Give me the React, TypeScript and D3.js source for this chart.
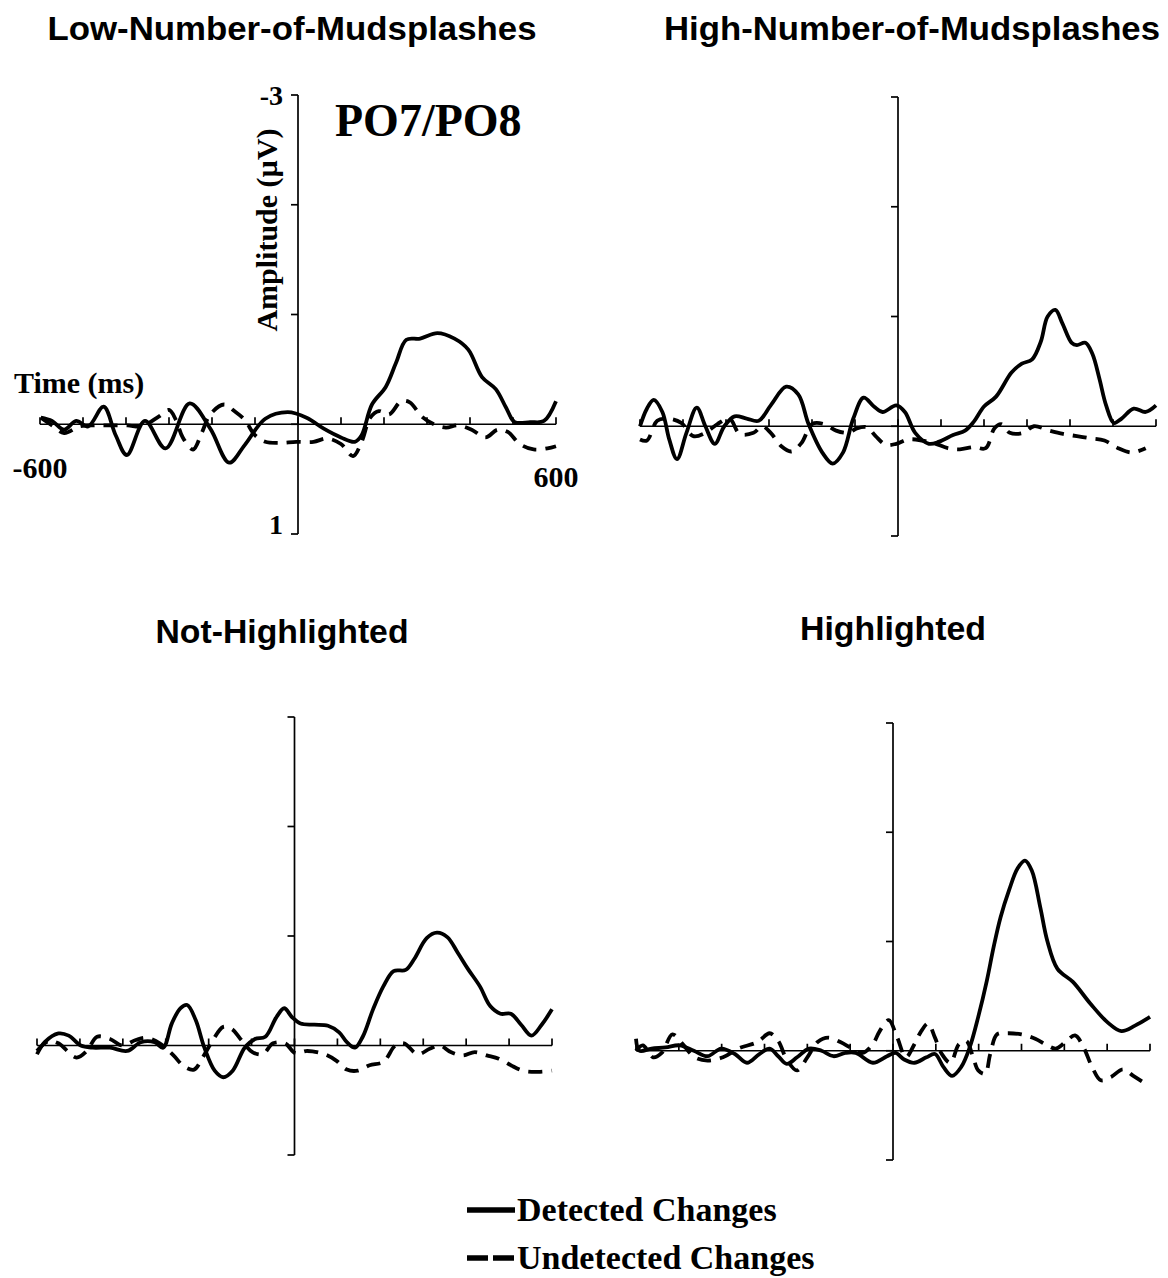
import React from "react";
import * as d3 from "d3";

// ---- Data (time ms, amplitude µV) ----
const timeTicks = [-600, -500, -400, -300, -200, -100, 0, 100, 200, 300, 400, 500, 600];
const ampTicks = [-3, -2, -1, 0, 1];
const titles = ["Low-Number-of-Mudsplashes", "High-Number-of-Mudsplashes", "Not-Highlighted", "Highlighted"];
const legendLabels = ["Detected Changes", "Undetected Changes"];

const lowDetected: [number, number][] = [[-598,-0.06],[-572,-0.03],[-544,0.05],[-516,-0.03],[-488,0.02],[-452,-0.16],[-424,0.1],[-398,0.28],[-356,-0.03],[-308,0.22],[-252,-0.19],[-204,0.04],[-160,0.35],[-124,0.19],[-76,-0.05],[-24,-0.11],[20,-0.06],[60,0.04],[100,0.12],[132,0.16],[148,0.1],[172,-0.18],[204,-0.34],[228,-0.56],[252,-0.77],[284,-0.78],[324,-0.83],[364,-0.78],[396,-0.68],[428,-0.43],[460,-0.32],[484,-0.15],[504,-0.02],[540,-0.02],[572,-0.03],[600,-0.21]];
const lowUndetected: [number, number][] = [[-598,-0.06],[-572,0.01],[-544,0.08],[-508,0.02],[-472,0.01],[-436,0.01],[-396,0.01],[-364,0.02],[-324,-0.07],[-300,-0.13],[-284,-0.04],[-268,0.12],[-244,0.23],[-224,0.08],[-204,-0.09],[-172,-0.18],[-148,-0.12],[-124,-0.04],[-100,0.1],[-76,0.16],[-44,0.17],[-4,0.16],[36,0.16],[68,0.13],[100,0.18],[128,0.29],[148,0.16],[168,-0.06],[188,-0.12],[212,-0.09],[240,-0.21],[260,-0.2],[288,-0.07],[316,0],[344,0.03],[372,0.01],[404,0.05],[436,0.12],[464,0.05],[488,0.07],[516,0.18],[548,0.23],[580,0.22],[600,0.2]];
const highDetected: [number, number][] = [[-600,0],[-584,-0.16],[-568,-0.24],[-548,-0.13],[-532,0.12],[-514,0.3],[-492,0.06],[-468,-0.17],[-448,0],[-426,0.16],[-404,0],[-380,-0.09],[-352,-0.07],[-324,-0.05],[-296,-0.19],[-260,-0.36],[-232,-0.29],[-208,-0.02],[-176,0.24],[-152,0.34],[-128,0.24],[-104,-0.07],[-80,-0.26],[-56,-0.18],[-36,-0.13],[-4,-0.19],[16,-0.13],[40,0.06],[72,0.16],[96,0.14],[128,0.08],[156,0.04],[176,-0.04],[200,-0.18],[228,-0.27],[264,-0.49],[288,-0.57],[312,-0.61],[332,-0.77],[348,-1.0],[366,-1.06],[382,-0.94],[404,-0.76],[416,-0.74],[436,-0.76],[452,-0.66],[468,-0.44],[484,-0.19],[502,-0.03],[520,-0.07],[548,-0.16],[576,-0.13],[600,-0.19]];
const highUndetected: [number, number][] = [[-600,0.12],[-584,0.13],[-560,-0.05],[-536,-0.07],[-504,-0.03],[-476,0.09],[-448,0.06],[-420,-0.02],[-392,-0.07],[-368,0.07],[-336,0.06],[-316,0],[-296,0.06],[-272,0.18],[-248,0.23],[-224,0.15],[-200,-0.02],[-172,-0.02],[-144,0.04],[-116,0.06],[-96,0.02],[-72,0.01],[-52,0.09],[-28,0.17],[-4,0.16],[24,0.12],[56,0.13],[88,0.16],[116,0.2],[144,0.21],[176,0.19],[204,0.2],[224,0.02],[240,-0.02],[260,0.06],[292,0.06],[316,0],[352,0.04],[384,0.07],[416,0.09],[448,0.11],[480,0.13],[512,0.2],[544,0.24],[576,0.2]];
const notHiDetected: [number, number][] = [[-600,0.08],[-582,-0.03],[-550,-0.11],[-526,-0.09],[-498,0],[-470,0.02],[-430,0.02],[-390,0.05],[-358,-0.03],[-326,-0.03],[-306,0.02],[-286,-0.2],[-266,-0.34],[-250,-0.37],[-230,-0.23],[-210,0.02],[-186,0.23],[-166,0.29],[-144,0.23],[-116,0.02],[-92,-0.06],[-68,-0.08],[-42,-0.26],[-24,-0.34],[-6,-0.26],[14,-0.2],[46,-0.19],[78,-0.18],[104,-0.12],[122,-0.03],[141,0.02],[159,-0.08],[183,-0.33],[207,-0.54],[231,-0.68],[259,-0.69],[279,-0.79],[308,-0.98],[332,-1.03],[356,-0.99],[380,-0.85],[404,-0.7],[432,-0.54],[456,-0.36],[480,-0.29],[504,-0.29],[528,-0.19],[552,-0.09],[576,-0.19],[600,-0.33]];
const notHiUndetected: [number, number][] = [[-600,0.05],[-574,-0.04],[-550,-0.02],[-508,0.11],[-484,0.05],[-460,-0.08],[-430,-0.06],[-402,0],[-370,-0.05],[-346,-0.07],[-314,-0.02],[-282,0.09],[-258,0.19],[-234,0.22],[-214,0.11],[-190,-0.05],[-166,-0.17],[-146,-0.15],[-126,-0.06],[-98,0.06],[-74,0.08],[-50,-0.02],[-22,-0.02],[2,0.07],[30,0.05],[70,0.08],[98,0.14],[122,0.22],[147,0.23],[175,0.18],[207,0.15],[235,0],[255,-0.02],[287,0.08],[315,0.03],[339,0],[364,0.06],[392,0.09],[420,0.06],[448,0.09],[476,0.12],[504,0.18],[532,0.23],[568,0.24],[600,0.23]];
const hiDetected: [number, number][] = [[-600,-0.11],[-592,0],[-564,-0.02],[-531,-0.03],[-498,-0.05],[-465,0],[-433,0.05],[-401,-0.02],[-369,0.03],[-341,0.11],[-312,0.03],[-288,-0.02],[-268,0.05],[-248,0.12],[-224,0.06],[-196,-0.02],[-167,0],[-139,0.05],[-111,0.02],[-87,0.02],[-47,0.11],[-14,0.05],[6,0.02],[26,0.08],[50,0.11],[78,0.06],[98,0.03],[118,0.15],[138,0.23],[159,0.15],[179,-0.03],[199,-0.31],[219,-0.64],[235,-0.95],[251,-1.22],[271,-1.47],[291,-1.67],[308,-1.74],[324,-1.65],[344,-1.31],[360,-1.01],[384,-0.75],[420,-0.63],[461,-0.43],[501,-0.26],[533,-0.18],[565,-0.23],[600,-0.31]];
const hiUndetected: [number, number][] = [[-600,0],[-584,-0.05],[-560,0.06],[-540,0.02],[-515,-0.15],[-491,-0.06],[-463,0.06],[-433,0.09],[-397,0.06],[-361,-0.02],[-316,-0.08],[-288,-0.16],[-268,-0.09],[-248,0.08],[-224,0.18],[-200,0.06],[-176,-0.08],[-151,-0.12],[-123,-0.08],[-95,-0.02],[-71,0.02],[-47,-0.06],[-31,-0.18],[-10,-0.28],[10,-0.12],[30,0.06],[50,-0.06],[66,-0.18],[82,-0.25],[98,-0.12],[114,0.03],[134,0.11],[154,-0.06],[171,-0.09],[187,0.06],[199,0.18],[215,0.21],[227,0.03],[243,-0.15],[267,-0.16],[300,-0.15],[332,-0.11],[360,-0.05],[380,-0.02],[400,-0.07],[425,-0.14],[445,-0.03],[465,0.15],[485,0.27],[509,0.24],[537,0.17],[561,0.23],[597,0.32]];

const seriesByPanel = [
  [lowDetected, lowUndetected],
  [highDetected, highUndetected],
  [notHiDetected, notHiUndetected],
  [hiDetected, hiUndetected],
];

// ---- Layout ----
const panels = [
  { x0: 40, x1: 556, yTop: 95, yBot: 534, tx: 292, ty: 40, tw: 489 },
  { x0: 640, x1: 1156, yTop: 97, yBot: 536, tx: 912, ty: 40, tw: 496 },
  { x0: 37, x1: 552, yTop: 717, yBot: 1155, tx: 282, ty: 643, tw: 253 },
  { x0: 636, x1: 1150, yTop: 723, yBot: 1160, tx: 893, ty: 640, tw: 186 },
];

const SERIF = "'Liberation Serif', 'Times New Roman', serif";
const SANS = "'Liberation Sans', Arial, sans-serif";

function Panel({ idx }: { idx: number }) {
  const p = panels[idx];
  const x = d3.scaleLinear().domain([-600, 600]).range([p.x0, p.x1]);
  const y = d3.scaleLinear().domain([-3, 1]).range([p.yTop, p.yBot]);
  const line = d3
    .line<[number, number]>()
    .x((d) => x(d[0]))
    .y((d) => y(d[1]))
    .curve(d3.curveCatmullRom.alpha(0.5));
  const [det, und] = seriesByPanel[idx];
  const ax = x(0);
  const y0 = y(0);
  return (
    <g>
      <text x={p.tx} y={p.ty} textAnchor="middle" fontFamily={SANS} fontWeight="bold" fontSize={33}
        textLength={p.tw} lengthAdjust="spacingAndGlyphs">{titles[idx]}</text>
      {/* y axis */}
      <line x1={ax} x2={ax} y1={y(-3)} y2={y(1)} stroke="#000" strokeWidth={1.7} />
      {ampTicks.map((t) => (
        <line key={t} x1={ax - 7} x2={ax} y1={y(t)} y2={y(t)} stroke="#000" strokeWidth={1.7} />
      ))}
      {/* x axis */}
      <line x1={x(-600)} x2={x(600)} y1={y0} y2={y0} stroke="#000" strokeWidth={1.7} />
      {timeTicks.map((t) => (
        <line key={t} x1={x(t)} x2={x(t)} y1={y0 - 7} y2={y0} stroke="#000" strokeWidth={1.7} />
      ))}
      <path d={line(und) || ""} fill="none" stroke="#000" strokeWidth={3.8} strokeDasharray="14 9" />
      <path d={line(det) || ""} fill="none" stroke="#000" strokeWidth={3.8} strokeLinejoin="round" />
      {idx === 0 && (
        <g fontFamily={SERIF} fontWeight="bold" fill="#000">
          <text x={ax - 15} y={y(-3) + 10} textAnchor="end" fontSize={28}>-3</text>
          <text x={ax - 15} y={y(1)} textAnchor="end" fontSize={28}>1</text>
          <text x={x(-600)} y={y0 + 54} textAnchor="middle" fontSize={30}>-600</text>
          <text x={x(600)} y={y0 + 63} textAnchor="middle" fontSize={30}>600</text>
          <text x={14} y={y0 - 31} fontSize={30}>Time (ms)</text>
          <text transform={`translate(${ax - 21}, ${y(-3) + 135}) rotate(-90)`} textAnchor="middle" fontSize={30}>Amplitude (µV)</text>
          <text x={335} y={y(-3) + 41} fontSize={46}>PO7/PO8</text>
        </g>
      )}
    </g>
  );
}

export default function App() {
  return (
    <div style={{ position: "absolute", left: 0, top: 0 }}>
      <svg width={1168} height={1278} style={{ display: "block", background: "#fff" }}>
        <rect width={1168} height={1278} fill="#fff" />
        {panels.map((_, i) => (
          <Panel key={i} idx={i} />
        ))}
        <g fontFamily={SERIF} fontWeight="bold" fontSize={34}>
          <line x1={467} x2={515} y1={1210} y2={1210} stroke="#000" strokeWidth={5.5} />
          <text x={517} y={1221}>{legendLabels[0]}</text>
          <line x1={467} x2={515} y1={1258} y2={1258} stroke="#000" strokeWidth={5.5} strokeDasharray="21 5" />
          <text x={517} y={1269}>{legendLabels[1]}</text>
        </g>
      </svg>
    </div>
  );
}
